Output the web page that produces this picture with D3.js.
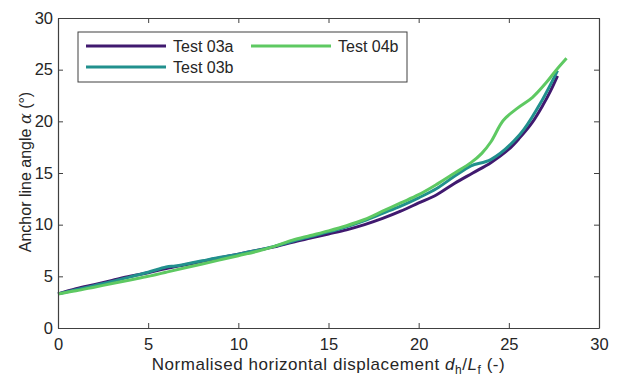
<!DOCTYPE html>
<html>
<head>
<meta charset="utf-8">
<script src="https://cdn.jsdelivr.net/npm/d3@7"></script>
<style>
  body { margin: 0; background: #fff; }
  svg { font-family: "Liberation Sans", Arial, sans-serif; }
  .axis path, .axis line { stroke: #404040; }
  .axis text { fill: #262626; font-size: 16.5px; }
</style>
</head>
<body>
<svg id="chart" width="618" height="379"></svg>
<script>
// [x, alpha] pairs
const test03a = [[0,3.3],[1,3.8],[2,4.2],[3,4.6],[4,5.0],[5,5.35],[6,5.75],[7,6.1],[8,6.45],[9,6.8],[10,7.15],[11,7.5],[12,7.85],[13,8.3],[14,8.7],[15,9.1],[16,9.5],[17,10.0],[18,10.6],[19,11.3],[20,12.1],[21,12.9],[22,14.0],[23,15.0],[24,16.0],[25,17.3],[25.6,18.4],[26.3,19.9],[26.9,21.6],[27.3,22.9],[27.7,24.4]];
const test03b = [[0,3.3],[1,3.7],[2,4.1],[3,4.5],[4,4.95],[5,5.4],[6,5.9],[6.5,6.0],[7,6.15],[8,6.5],[9,6.85],[10,7.15],[11,7.5],[12,7.9],[13,8.4],[14,8.85],[15,9.3],[16,9.8],[17,10.4],[18,11.1],[19,11.8],[20,12.6],[21,13.5],[22,14.7],[22.9,15.7],[24.0,16.3],[25.6,18.7],[26.7,21.6],[27.5,24.2],[27.7,24.9]];
const test04b = [[0,3.3],[1,3.6],[2,3.95],[3,4.3],[4,4.65],[5,5.0],[6,5.4],[7,5.8],[8,6.2],[9,6.6],[10,7.0],[11,7.4],[12,7.9],[13,8.5],[14,8.95],[15,9.4],[16,9.9],[17,10.5],[18,11.3],[19,12.1],[20,12.9],[21,13.9],[22,15.0],[22.9,16.0],[23.5,16.9],[24.0,18.0],[24.7,20.1],[25.5,21.3],[26.3,22.3],[27.1,23.8],[27.6,24.9],[28.2,26.1]];

const seriesNames = ["Test 03a", "Test 03b", "Test 04b"];
const seriesColors = ["#40196f", "#21908d", "#5ec962"];
const xTicks = [0, 5, 10, 15, 20, 25, 30];
const yTicks = [0, 5, 10, 15, 20, 25, 30];

const svg = d3.select("#chart");
const margin = { top: 18, right: 19, bottom: 51, left: 58 };
const W = 618, H = 379;
const w = W - margin.left - margin.right;
const h = H - margin.top - margin.bottom;

const x = d3.scaleLinear().domain([0, 30]).range([0, w]);
const y = d3.scaleLinear().domain([0, 30]).range([h, 0]);

const g = svg.append("g").attr("transform", `translate(${margin.left},${margin.top})`);

// lines
const line = d3.line()
  .x(d => x(d[0]))
  .y(d => y(d[1]))
  .curve(d3.curveCatmullRom.alpha(0.5));

[test03a, test03b, test04b].forEach((data, i) => {
  g.append("path")
    .datum(data)
    .attr("fill", "none")
    .attr("stroke", seriesColors[i])
    .attr("stroke-width", 3)
    .attr("stroke-linejoin", "round")
    .attr("d", line);
});

// axes with inward ticks, boxed
const tl = 5;
g.append("g").attr("class", "axis")
  .attr("transform", `translate(0,${h})`)
  .call(d3.axisBottom(x).tickValues(xTicks).tickSizeInner(-tl).tickSizeOuter(0))
  .call(a => a.selectAll("text").attr("y", 22).attr("dy", 0));
g.append("g").attr("class", "axis")
  .call(d3.axisLeft(y).tickValues(yTicks).tickSizeInner(-tl).tickSizeOuter(0).tickPadding(5));
g.append("g").attr("class", "axis")
  .call(d3.axisTop(x).tickValues(xTicks).tickSizeInner(-tl).tickSizeOuter(0).tickFormat(""));
g.append("g").attr("class", "axis")
  .attr("transform", `translate(${w},0)`)
  .call(d3.axisRight(y).tickValues(yTicks).tickSizeInner(-tl).tickSizeOuter(0).tickFormat(""));
g.selectAll(".axis path").attr("stroke-width", 1.2);

// axis labels
const xl = svg.append("text")
  .attr("x", margin.left + w / 2)
  .attr("y", 370)
  .attr("text-anchor", "middle")
  .attr("fill", "#262626")
  .style("font-size", "17px")
  .style("letter-spacing", "0.55px");
xl.append("tspan").text("Normalised horizontal displacement ");
xl.append("tspan").style("font-style", "italic").text("d");
xl.append("tspan").attr("dy", 4).style("font-size", "12px").text("h");
xl.append("tspan").attr("dy", -4).text("/");
xl.append("tspan").style("font-style", "italic").text("L");
xl.append("tspan").attr("dy", 4).style("font-size", "12px").text("f");
xl.append("tspan").attr("dy", -4).text(" (-)");

const yl = svg.append("text")
  .attr("transform", `translate(31,172) rotate(-90)`)
  .attr("text-anchor", "middle")
  .attr("fill", "#262626")
  .style("font-size", "16px");
yl.append("tspan").text("Anchor line angle ");
yl.append("tspan").style("font-family", "DejaVu Serif, serif").style("font-style", "italic").text("α");
yl.append("tspan").text(" (°)");

// legend
const leg = svg.append("g").attr("transform", "translate(78,32)");
leg.append("rect").attr("width", 329).attr("height", 50)
  .attr("fill", "#fff").attr("stroke", "#404040").attr("stroke-width", 1);
const legPos = [[8, 14], [8, 35], [173, 14]];
seriesNames.forEach((name, i) => {
  const [lx, ly] = legPos[i];
  leg.append("line").attr("x1", lx).attr("x2", lx + 80).attr("y1", ly).attr("y2", ly)
    .attr("stroke", seriesColors[i]).attr("stroke-width", 3);
  leg.append("text").attr("x", lx + 87).attr("y", ly + 6)
    .attr("fill", "#262626").style("font-size", "16px").text(name);
});
</script>
</body>
</html>
